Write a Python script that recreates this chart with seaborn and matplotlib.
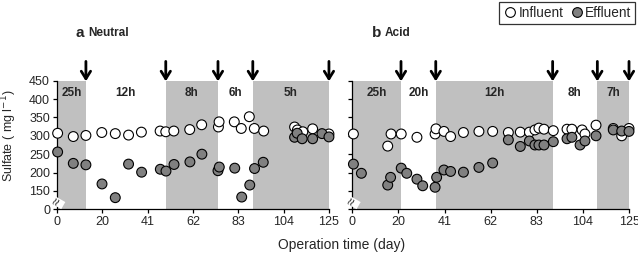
import numpy as np
import pandas as pd
import matplotlib
matplotlib.use("Agg")
import matplotlib.pyplot as plt
import seaborn as sns
from matplotlib.lines import Line2D

sns.set_theme(style="white")
plt.rcParams['font.family'] = ['Liberation Sans', 'DejaVu Sans']

# ---------------- data ----------------
# Panel a (Neutral)
a_inf_day = [0.3, 7.5, 13.3, 20.6, 26.8, 32.9, 38.8, 47.4, 50.0, 53.7, 61.0, 66.5, 74.2, 74.5,
             81.5, 84.7, 88.4, 90.7, 95.0, 109.2, 110.5, 113.0, 117.5, 125.0]
a_inf_val = [307, 298, 301, 309, 306, 302, 310, 313, 311, 313, 317, 330, 324, 338,
             338, 320, 352, 320, 313, 324, 316, 311, 319, 305]
a_eff_day = [0.3, 7.5, 13.3, 20.7, 26.8, 32.9, 38.9, 47.5, 50.1, 53.8, 61.1, 66.6, 74.0, 74.6,
             81.7, 84.9, 88.6, 90.8, 94.8, 109.2, 110.4, 112.7, 117.5, 121.8, 125.0]
a_eff_val = [256, 225, 221, 169, 95, 223, 201, 209, 204, 222, 229, 250, 205, 215,
             212, 100, 166, 211, 228, 296, 307, 292, 292, 306, 297]

# Panel b (Acid)
b_inf_day = [0.5, 16.0, 17.5, 22.1, 29.2, 37.4, 37.8, 41.4, 44.4, 50.2, 57.2, 63.4, 70.5, 75.9,
             80.0, 82.5, 84.3, 86.6, 90.8, 97.0, 99.2, 103.8, 105.1, 110.1, 117.9, 121.7, 125.0]
b_inf_val = [305, 272, 305, 305, 296, 305, 319, 312, 298, 309, 312, 312, 309, 310,
             310, 316, 321, 318, 314, 318, 318, 316, 305, 329, 320, 300, 320]
b_eff_day = [0.5, 4.1, 16.0, 17.3, 22.1, 24.6, 29.2, 31.8, 37.4, 38.1, 41.4, 44.4, 50.2, 57.2,
             63.4, 70.5, 75.9, 80.0, 82.5, 84.3, 86.6, 90.8, 97.0, 99.2, 102.9, 105.1, 110.1,
             117.9, 121.7, 125.0]
b_eff_val = [223, 198, 166, 187, 212, 198, 182, 164, 160, 187, 207, 203, 201, 214,
             226, 289, 271, 286, 275, 275, 275, 284, 292, 296, 275, 286, 300,
             316, 313, 312]

# Shaded periods, HRT labels, arrows
a_shade = [(0, 13.3), (50, 74), (90, 125)]
b_shade = [(0, 22), (37.7, 90.5), (110.7, 125)]
a_hrt = [("25h", 0, 13.3), ("12h", 13.3, 50), ("8h", 50, 74), ("6h", 74, 90), ("5h", 90, 125)]
b_hrt = [("25h", 0, 22), ("20h", 22, 37.7), ("12h", 37.7, 90.5), ("8h", 90.5, 110.7), ("7h", 110.7, 125)]
a_arrows = [13.3, 50, 74, 90, 125]
b_arrows = [22, 37.7, 90.5, 110.7, 125]

xticks = [0, 20.83, 41.67, 62.5, 83.33, 104.17, 125]
xticklabels = ["0", "20", "41", "62", "83", "104", "125"]
ytick_vals = [0, 150, 200, 250, 300, 350, 400, 450]


def disp(v):
    v = np.asarray(v, dtype=float)
    # broken axis: 0-150 compressed into one 50-unit step
    return np.where(v >= 150, v - 100, v / 3.0)


def make_df(d1, v1, d2, v2):
    return pd.DataFrame({
        "day": list(d1) + list(d2),
        "y": list(disp(v1)) + list(disp(v2)),
        "type": ["Influent"] * len(d1) + ["Effluent"] * len(d2),
    })


dfa = make_df(a_inf_day, a_inf_val, a_eff_day, a_eff_val)
dfb = make_df(b_inf_day, b_inf_val, b_eff_day, b_eff_val)

fig = plt.figure(figsize=(6.38, 2.57), dpi=100)
axa = fig.add_axes([0.0893, 0.1856, 0.4263, 0.5004])
axb = fig.add_axes([0.5522, 0.1856, 0.4337, 0.5004])

palette = {"Influent": "white", "Effluent": "#808080"}
gray = "#c0c0c0"

for ax, df, shades, hrts, arrows, showy in [
    (axa, dfa, a_shade, a_hrt, a_arrows, True),
    (axb, dfb, b_shade, b_hrt, b_arrows, False),
]:
    for s, e in shades:
        ax.axvspan(s, e, color=gray, zorder=0, lw=0)
    sns.scatterplot(data=df, x="day", y="y", hue="type", palette=palette, ax=ax,
                    s=50, edgecolor="black", linewidth=0.8, legend=False,
                    clip_on=False, zorder=3)
    ax.set_xlim(0, 125)
    ax.set_ylim(0, 350)
    ax.set_xticks(xticks)
    ax.set_xticklabels(xticklabels, fontsize=9)
    ax.set_yticks(disp(ytick_vals))
    if showy:
        ax.set_yticklabels([str(v) for v in ytick_vals], fontsize=9)
    else:
        ax.set_yticklabels([])
    ax.set_xlabel("")
    ax.set_ylabel("")
    for sp in ["top", "right"]:
        ax.spines[sp].set_visible(False)
    for sp in ["left", "bottom"]:
        ax.spines[sp].set_color("black")
        ax.spines[sp].set_linewidth(0.9)
    ax.tick_params(axis="both", which="both", direction="out", length=3, width=0.9,
                   color="black", left=True, bottom=True, pad=2)
    for lab, s, e in hrts:
        ax.text((s + e) / 2, 317, lab, ha="center", va="center", fontsize=8.5,
                fontweight="bold", zorder=4)
    for d in arrows:
        ax.annotate("", xy=(d, 0.995), xycoords=("data", "axes fraction"),
                    xytext=(d, 1.15), textcoords=("data", "axes fraction"),
                    arrowprops=dict(arrowstyle="->,head_width=0.28,head_length=0.45",
                                    lw=2.0, color="black", shrinkA=0, shrinkB=0),
                    annotation_clip=False)
    # axis break mark
    ax.text(0, 20, "≈", ha="center", va="center", fontsize=10, rotation=60,
            zorder=5, bbox=dict(facecolor="white", edgecolor="none", pad=0.2),
            clip_on=False)

fig.text(0.015, 0.47, "Sulfate ( mg l$^{-1}$)", rotation=90, ha="center", va="center",
         fontsize=9)
fig.text(0.536, 0.045, "Operation time (day)", ha="center", va="center", fontsize=10)

fig.text(0.118, 0.872, "a", fontsize=11, fontweight="bold", ha="left", va="center")
fig.text(0.138, 0.872, "Neutral", fontsize=8.5, fontweight="bold", ha="left", va="center")
fig.text(0.583, 0.872, "b", fontsize=11, fontweight="bold", ha="left", va="center")
fig.text(0.603, 0.872, "Acid", fontsize=8.5, fontweight="bold", ha="left", va="center")

handles = [
    Line2D([], [], marker="o", ls="", markerfacecolor="white", markeredgecolor="black",
           markersize=7, markeredgewidth=0.8, label="Influent"),
    Line2D([], [], marker="o", ls="", markerfacecolor="#808080", markeredgecolor="black",
           markersize=7, markeredgewidth=0.8, label="Effluent"),
]
leg = fig.legend(handles=handles, loc="upper right", bbox_to_anchor=(0.998, 0.998), ncol=2,
                 frameon=True, fancybox=False, fontsize=9.8, handletextpad=0.1,
                 columnspacing=0.5, borderpad=0.3, handlelength=1.0, borderaxespad=0.1)
leg.get_frame().set_edgecolor("black")
leg.get_frame().set_linewidth(0.9)

fig.savefig("out.png", dpi=100)
